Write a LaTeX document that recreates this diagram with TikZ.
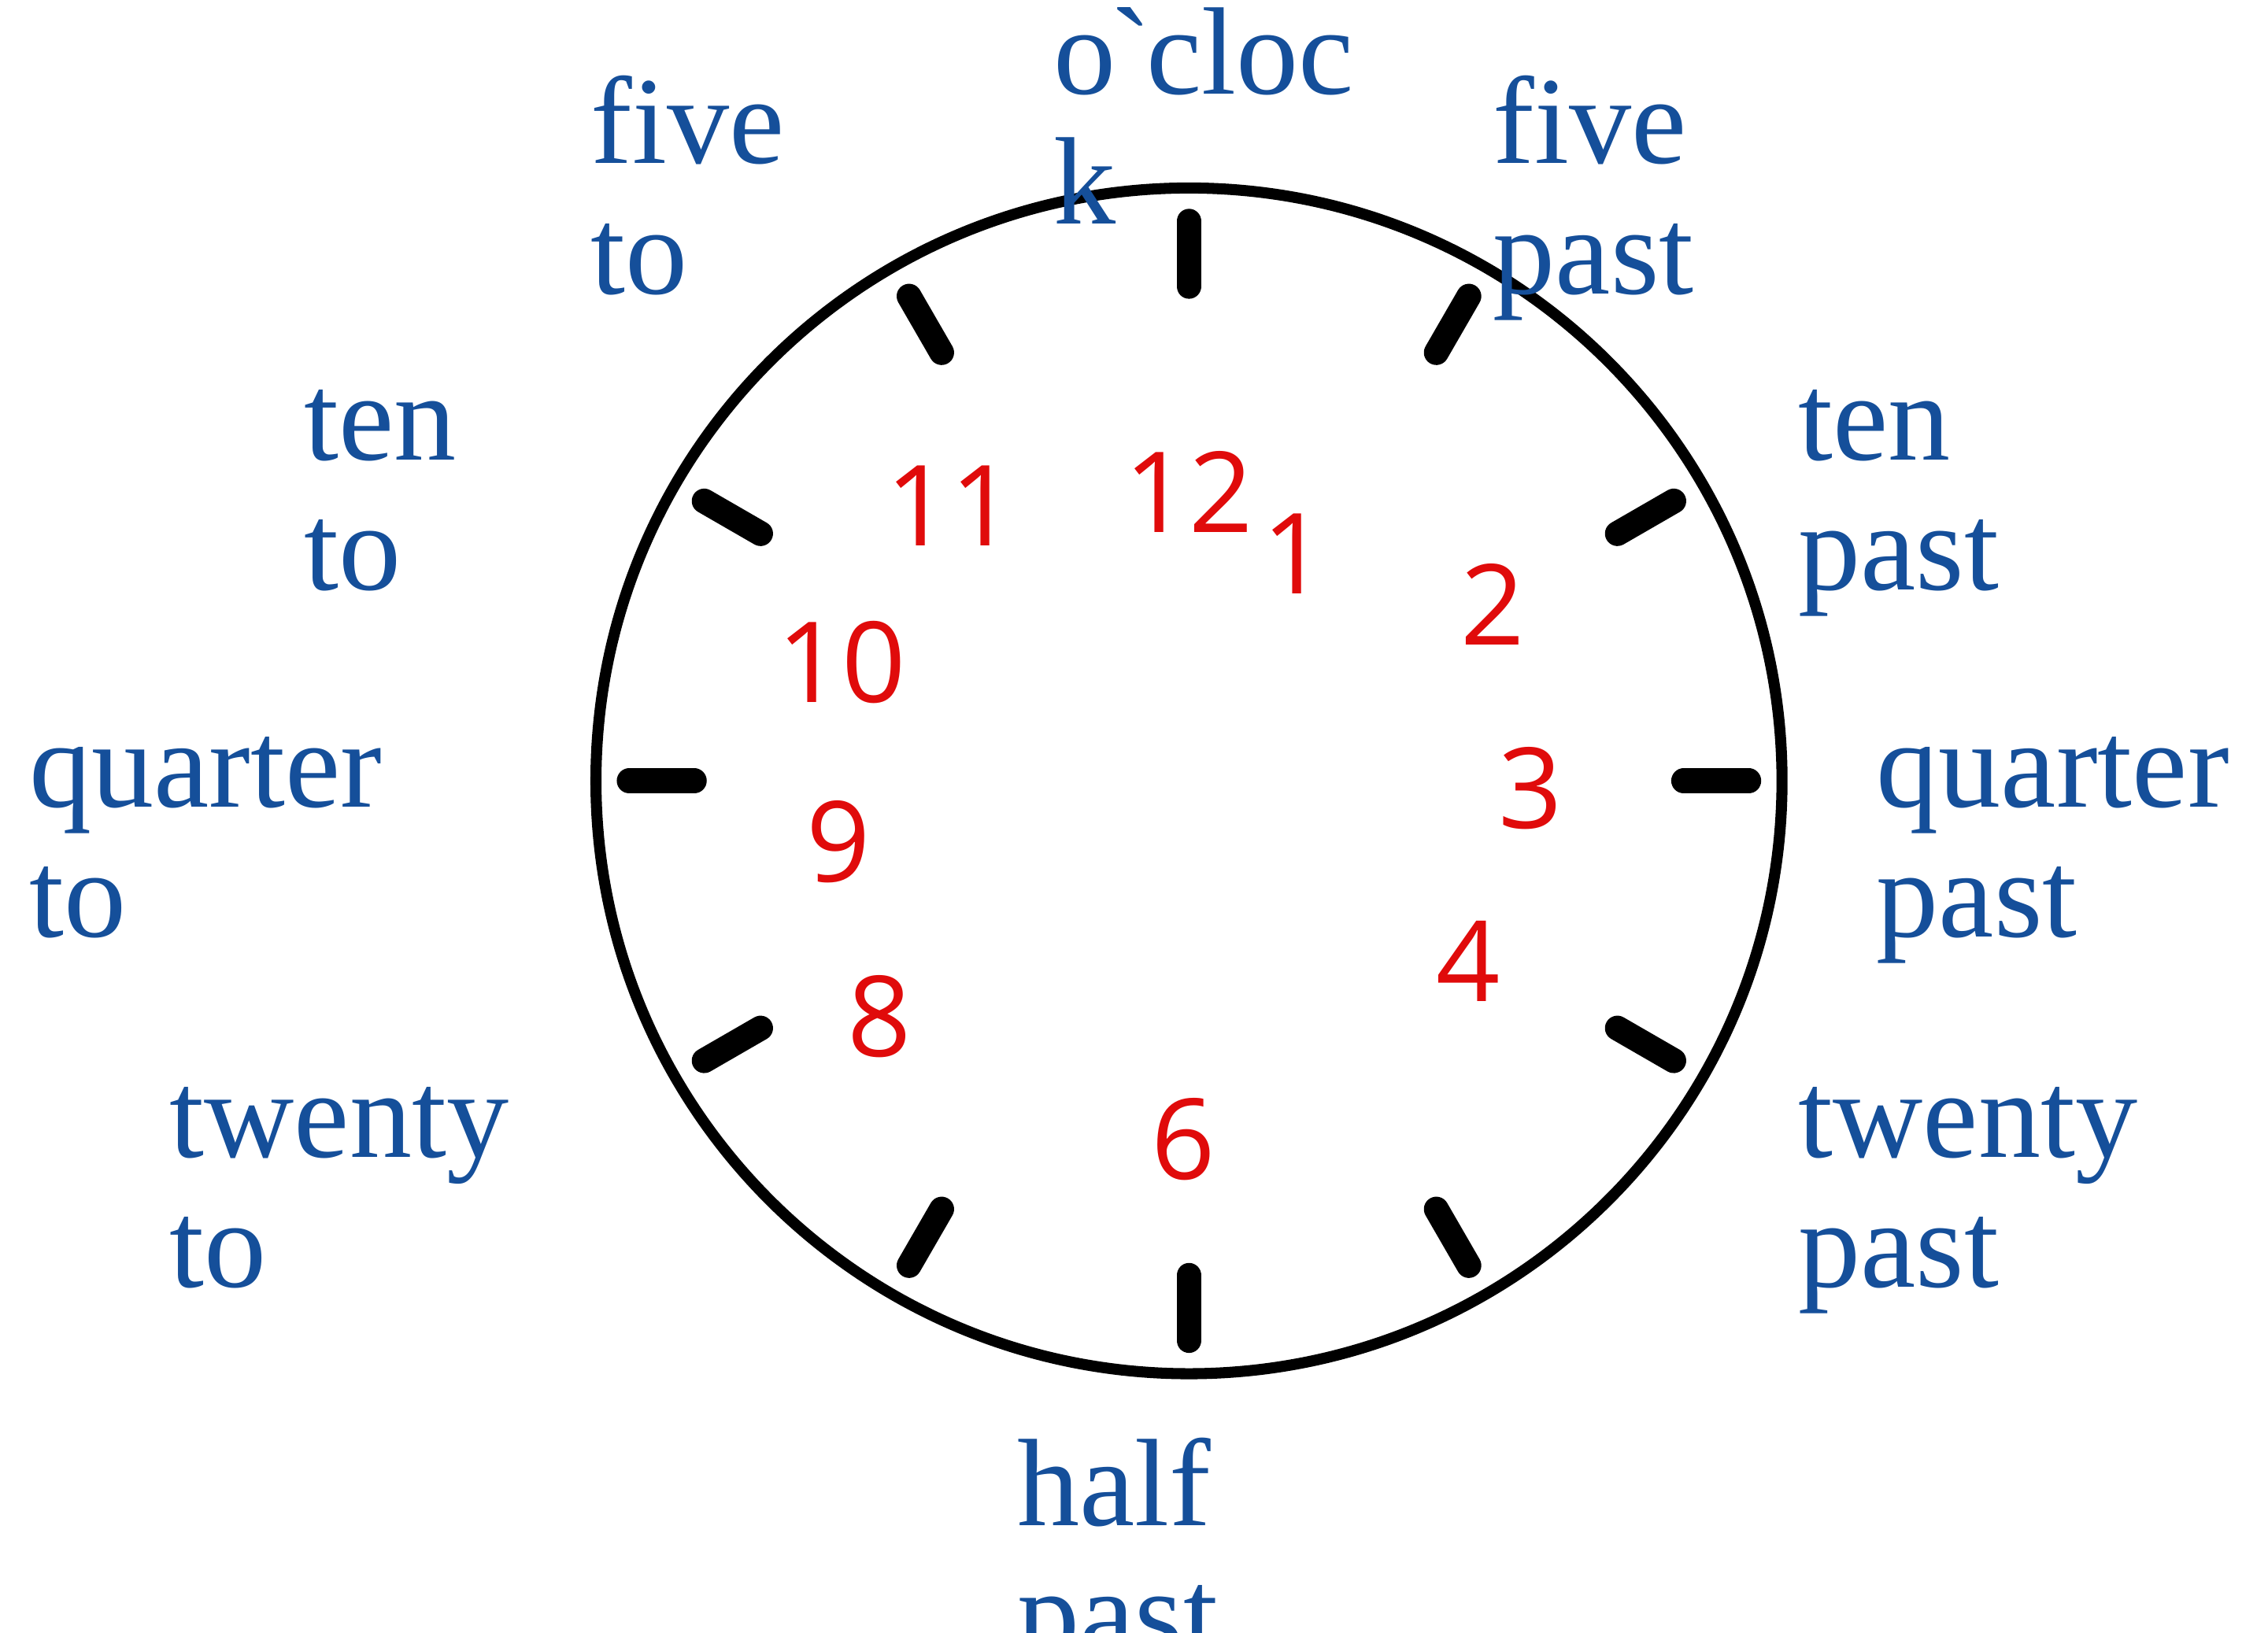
\documentclass[tikz,border=0pt]{standalone}
\usepackage{fontspec}
\setmainfont{Liberation Serif}
\newfontfamily\digitfont{Open Sans}
\usepackage{xcolor}
\usetikzlibrary{positioning}
\definecolor{wordblue}{HTML}{154F9A}
\definecolor{numred}{HTML}{E00B0B}
\tikzset{
  clockword/.style={text=wordblue, anchor=base west, align=left, inner sep=0pt, font=\fontsize{45}{47}\selectfont},
  clocknum/.style={text=numred, inner sep=0pt, font=\digitfont\fontsize{40.5}{42}\selectfont},
  clocktick/.style={line width=9pt, line cap=round},
  clockrim/.style={draw, line width=4pt}
}

\begin{document}
\begin{tikzpicture}[x=0.018374cm, y=-0.018374cm]
\useasboundingbox (0,0) rectangle (1568,1129);
\coordinate (center) at (822,540);
\draw[clockrim] (center) circle[radius=410];
\foreach \a in {0,30,...,330} {
  \draw[clocktick] ([shift={(\a:342)}]center) -- ([shift={(\a:387)}]center);
}
\foreach \n/\x/\y in {12/822/340, 1/895/383, 2/1032/418, 3/1058/545, 4/1015/665,
                      6/818/788, 8/608/703, 9/580/582, 10/582/458, 11/657/350} {
  \node[clocknum] (num\n) at (\x,\y) {\n};
}
% base anchor sits on the second line
\node[clockword] (oclock) at (728,155) {o\kern-2pt\textasciigrave\kern-2pt cloc\\k};
\node[clockword] (fiveto) at (408,203) {five\\to};
\node[clockword] (fivepast) at (1032,203) {five\\past};
\node[clockword] (tento) at (210,408) {ten\\to};
\node[clockword] (tenpast) at (1243,408) {ten\\past};
\node[clockword] (quarterto) at (20,648) {quarter\\to};
\node[clockword] (quarterpast) at (1297,648) {quarter\\past};
\node[clockword] (twentyto) at (117,890) {twenty\\to};
\node[clockword] (twentypast) at (1243,890) {twenty\\past};
\node[clockword] (halfpast) at (703,1145) {half\\past};
\end{tikzpicture}
\end{document}
